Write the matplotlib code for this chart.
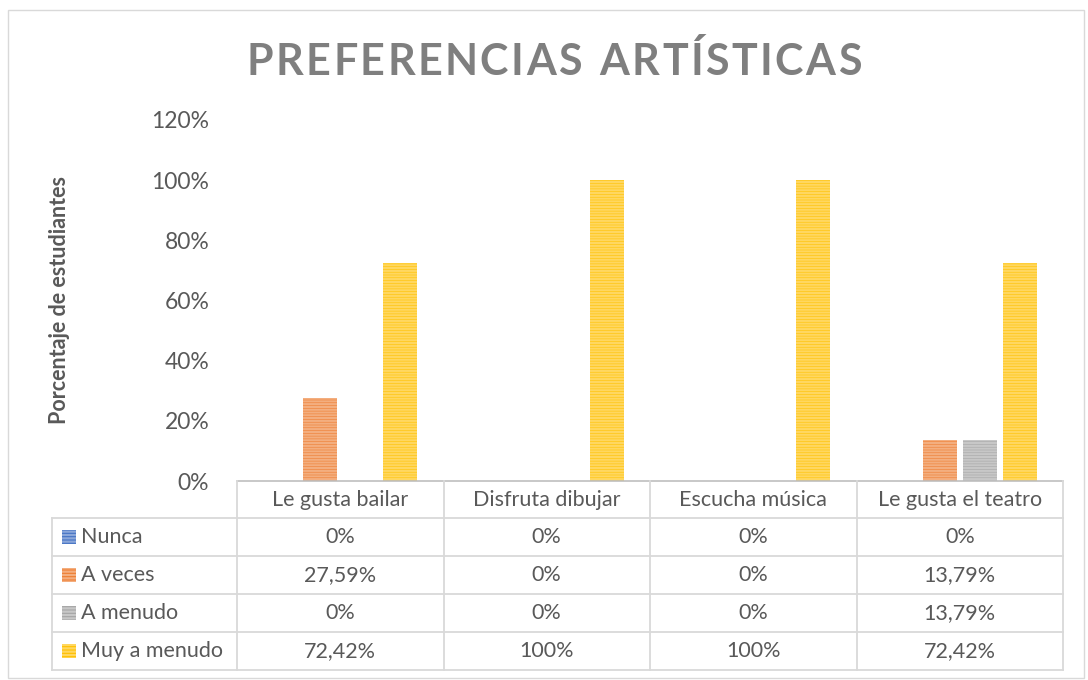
import matplotlib
matplotlib.use("Agg")
import matplotlib.pyplot as plt
import matplotlib.transforms as mtransforms
from matplotlib.patches import Rectangle
from matplotlib.lines import Line2D
import numpy as np

# datos
categorias = ["Le gusta bailar", "Disfruta dibujar", "Escucha música", "Le gusta el teatro"]
series = ["Nunca", "A veces", "A menudo", "Muy a menudo"]
nunca = [0, 0, 0, 0]
a_veces = [27.59, 0, 0, 13.79]
a_menudo = [0, 0, 0, 13.79]
muy_a_menudo = [72.42, 100, 100, 72.42]
valores = [nunca, a_veces, a_menudo, muy_a_menudo]
colores = ["#4472C4", "#ED7D31", "#A5A5A5", "#FFC000"]
etiquetas_y = ["0%", "20%", "40%", "60%", "80%", "100%", "120%"]

plt.rcParams["font.family"] = ["Lato", "DejaVu Sans"]
plt.rcParams["hatch.linewidth"] = 1.6
txt = "#595959"
linea = "#D9D9D9"
fs = 15.5

W, H = 1088, 680
fig = plt.figure(figsize=(W / 100, H / 100), dpi=100)

def fy(py):
    return 1 - py / H

ax_left, ax_right = 237 / W, 1063 / W
ax_bottom, ax_top = fy(481), fy(120)
ax = fig.add_axes([ax_left, ax_bottom, ax_right - ax_left, ax_top - ax_bottom])

x = np.arange(len(categorias)) + 0.5
paso = 0.194
ancho = 0.165
for i, (vals, col) in enumerate(zip(valores, colores)):
    pos = x + (i - 1.5) * paso
    ax.bar(pos, vals, width=ancho, color=col, linewidth=0)
    # rayado horizontal claro
    ax.bar(pos, vals, width=ancho, facecolor="none", edgecolor=(1, 1, 1, 0.38),
           hatch="------", linewidth=0)

ax.set_xlim(0, len(categorias))
ax.set_ylim(0, 120)
ax.set_yticks(np.arange(0, 121, 20))
ax.set_yticklabels(etiquetas_y, fontsize=16.5, color=txt)
ax.tick_params(axis="y", length=0, pad=20)
ax.set_xticks([])
for s in ["top", "right", "left"]:
    ax.spines[s].set_visible(False)
ax.spines["bottom"].set_color("#BFBFBF")
ax.spines["bottom"].set_linewidth(1.2)

fig.text(60 / W, fy(300), "Porcentaje de estudiantes", rotation=90,
         ha="center", va="center", fontsize=15.5, fontweight="bold", color=txt)

# titulo con espaciado entre letras
titulo = "PREFERENCIAS ARTÍSTICAS"
renderer = fig.canvas.get_renderer()
props = dict(fontsize=31, fontweight="bold", color="#7F7F7F")
anchos = []
for ch in titulo:
    t = fig.text(0, 0, ch if ch != " " else "a", **props)
    anchos.append(t.get_window_extent(renderer).width * (0.6 if ch == " " else 1))
    t.remove()
extra = 2.4
total = sum(anchos) + extra * (len(titulo) - 1)
cx = 554
px = cx - total / 2
for ch, w in zip(titulo, anchos):
    if ch != " ":
        fig.text(px / W, fy(75), ch, ha="left", va="baseline", **props)
    px += w + extra

# tabla de datos
tr = mtransforms.blended_transform_factory(ax.transData, fig.transFigure)
filas = [481, 518, 556, 594, 632, 670]
x_lab = 52 / W
kw = dict(color=linea, linewidth=1.3)
for py in filas[1:]:
    fig.add_artist(Line2D([x_lab, ax_right], [fy(py), fy(py)], transform=fig.transFigure, **kw))
for j in range(len(categorias) + 1):
    fig.add_artist(Line2D([j, j], [fy(481), fy(670)], transform=tr, **kw))
fig.add_artist(Line2D([x_lab, x_lab], [fy(518), fy(670)], transform=fig.transFigure, **kw))

for j, cat in enumerate(categorias):
    fig.text(j + 0.5, fy((481 + 518) / 2), cat, transform=tr, ha="center", va="center",
             fontsize=fs, color=txt)

def fmt(v):
    if v == int(v):
        return f"{int(v)}%"
    return f"{v:.2f}%".replace(".", ",")

for i, (nom, vals, col) in enumerate(zip(series, valores, colores)):
    y0, y1 = filas[i + 1], filas[i + 2]
    yc = fy((y0 + y1) / 2)
    fig.add_artist(Rectangle((62 / W, yc - 7 / H), 14 / W, 14 / H, transform=fig.transFigure,
                             facecolor=col, linewidth=0))
    fig.add_artist(Rectangle((62 / W, yc - 7 / H), 14 / W, 14 / H, transform=fig.transFigure,
                             facecolor="none", edgecolor=(1, 1, 1, 0.38), hatch="-----", linewidth=0))
    fig.text(81 / W, yc, nom, ha="left", va="center", fontsize=fs, color=txt)
    for j, v in enumerate(vals):
        fig.text(j + 0.5, yc, fmt(v), transform=tr, ha="center", va="center",
                 fontsize=fs, color=txt)

# borde del grafico
fig.add_artist(Rectangle((8 / W, 2 / H), 1076 / W, 668 / H, transform=fig.transFigure,
                         facecolor="none", edgecolor="#D9D9D9", linewidth=1))

fig.savefig("out.png", dpi=100, facecolor="white")
